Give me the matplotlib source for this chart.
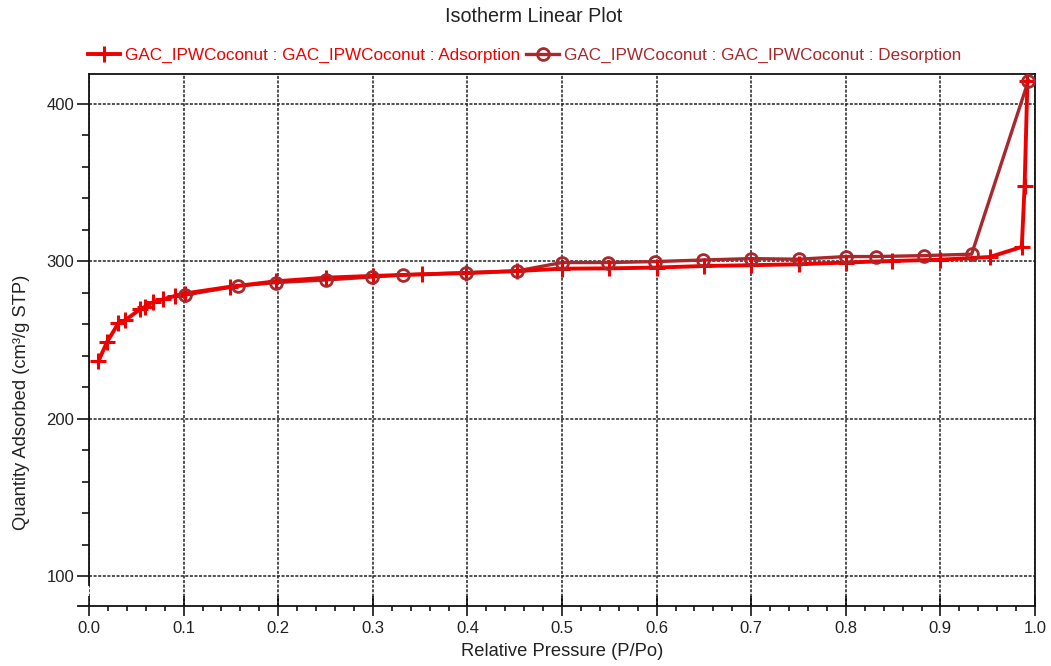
import matplotlib
matplotlib.use("Agg")
import matplotlib.pyplot as plt
from matplotlib.ticker import MultipleLocator, FormatStrFormatter

plt.rcParams['font.family'] = ['Liberation Sans', 'DejaVu Sans']

# Adsorption branch
p_ads = [0.010, 0.019, 0.031, 0.038, 0.054, 0.059, 0.068, 0.078, 0.091, 0.101,
         0.149, 0.198, 0.251, 0.300, 0.352, 0.399, 0.452, 0.500, 0.550, 0.600,
         0.650, 0.700, 0.750, 0.800, 0.849, 0.900, 0.952, 0.986, 0.989, 0.992]
q_ads = [236.6, 248.7, 260.6, 262.5, 269.5, 271.0, 274.1, 275.8, 278.0, 279.5,
         283.8, 287.3, 289.6, 290.7, 291.7, 292.5, 293.8, 295.3, 295.5, 296.0,
         297.0, 297.5, 298.1, 299.2, 300.2, 301.0, 302.7, 309.1, 347.9, 414.8]

# Desorption branch
p_des = [0.993, 0.933, 0.883, 0.832, 0.800, 0.750, 0.700, 0.649, 0.598, 0.549,
         0.500, 0.452, 0.399, 0.332, 0.299, 0.250, 0.198, 0.157, 0.101]
q_des = [414.8, 304.5, 303.6, 303.0, 303.0, 301.3, 301.7, 300.8, 299.8, 299.2,
         299.2, 293.8, 292.8, 291.4, 290.0, 288.1, 286.5, 284.3, 278.5]

label_ads = "GAC_IPWCoconut : GAC_IPWCoconut : Adsorption"
label_des = "GAC_IPWCoconut : GAC_IPWCoconut : Desorption"
title = "Isotherm Linear Plot"
xlabel = "Relative Pressure (P/Po)"
ylabel = "Quantity Adsorbed (cm³/g STP)"

c_ads = '#ee0000'
c_des = '#a8282c'

fig = plt.figure(figsize=(10.51, 6.66), dpi=100)
ax = fig.add_axes([0.0847, 0.090, 0.9001, 0.799])

ax.set_xlim(0.0, 1.0)
ax.set_ylim(81, 419)

# grid
ax.grid(True, which='major', color='#222222', linestyle=(0, (2, 1)), linewidth=1.1)
ax.set_axisbelow(True)

# curves
ax.plot(p_des, q_des, color=c_des, lw=2.4, zorder=2)
ax.plot(p_ads, q_ads, color=c_ads, lw=2.8, marker='+', ms=12, mew=2.2, zorder=3)
ax.plot(p_des, q_des, color=c_des, lw=0, marker='o', ms=8.5, mew=2.0,
        mfc='none', zorder=4)

# legend proxies
h_ads, = ax.plot([], [], color=c_ads, lw=2.8, marker='+', ms=12, mew=2.2)
h_des, = ax.plot([], [], color=c_des, lw=2.4, marker='o', ms=8.5, mew=2.0, mfc='none')
leg = fig.legend([h_ads, h_des], [label_ads, label_des], loc='center left',
                 bbox_to_anchor=(0.0835, 0.917), ncol=2, frameon=False,
                 fontsize=12.3, handlelength=1.9, handletextpad=0.3,
                 columnspacing=0.35, borderaxespad=0, borderpad=0)
leg.get_texts()[0].set_color(c_ads)
leg.get_texts()[1].set_color(c_des)

# ticks
ax.xaxis.set_major_locator(MultipleLocator(0.1))
ax.xaxis.set_minor_locator(MultipleLocator(0.02))
ax.xaxis.set_major_formatter(FormatStrFormatter('%.1f'))
ax.yaxis.set_major_locator(MultipleLocator(100))
ax.yaxis.set_minor_locator(MultipleLocator(20))
ax.tick_params(axis='x', which='major', direction='inout', length=14, width=1.1,
               labelsize=12, labelcolor='#222222', pad=4)
ax.tick_params(axis='x', which='minor', direction='out', length=3.5, width=1.1)
ax.tick_params(axis='y', which='major', direction='out', length=8.5, width=1.1,
               labelsize=12, labelcolor='#222222', pad=2)
ax.tick_params(axis='y', which='minor', direction='out', length=5, width=1.1)
ax.tick_params(right=False, top=False)

for s in ax.spines.values():
    s.set_linewidth(1.3)
    s.set_color('#111111')
ax.spines['left'].set_bounds(94.5, 419)
ax.spines['bottom'].set_bounds(-0.012, 1.0)

ax.set_xlabel(xlabel, fontsize=13.2, color='#222222')
ax.xaxis.set_label_coords(0.5, -0.069)
ax.set_ylabel(ylabel, fontsize=13.2, color='#222222')
ax.yaxis.set_label_coords(-0.062, 0.383)
fig.text(0.508, 0.975, title, fontsize=14.2, color='#222222', ha='center', va='center')

fig.savefig('out.png', dpi=100)
